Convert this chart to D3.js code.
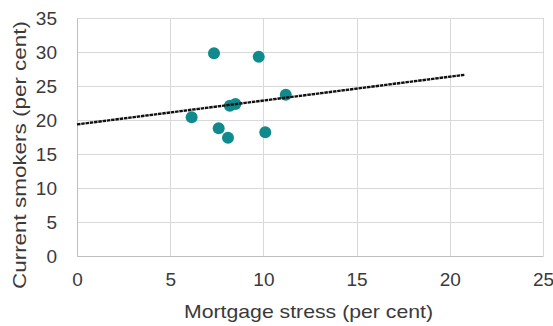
<!DOCTYPE html>
<html>
<head>
<meta charset="utf-8">
<script src="https://cdn.jsdelivr.net/npm/d3@7"></script>
<style>
  html, body { margin: 0; padding: 0; background: #fff; }
  svg { display: block; font-family: "Liberation Sans", Arial, sans-serif; }
</style>
</head>
<body>
<svg id="chart" width="553" height="326"></svg>
<script>
// Data
const mortgageStress = [7.35, 9.75, 6.15, 7.6, 8.1, 8.2, 8.5, 10.1, 11.2];
const currentSmokers = [29.8, 29.3, 20.4, 18.8, 17.4, 22.1, 22.35, 18.2, 23.7];
const trendX = [0, 20.8];
const trendY = [19.35, 26.65];
const xTicks = [0, 5, 10, 15, 20, 25];
const yTicks = [0, 5, 10, 15, 20, 25, 30, 35];
const xTitle = "Mortgage stress (per cent)";
const yTitle = "Current smokers (per cent)";

const svg = d3.select("#chart");
const mLeft = 77, mRight = 543, mTop = 18, mBottom = 256;

const x = d3.scaleLinear().domain([0, 25]).range([mLeft, mRight]);
const y = d3.scaleLinear().domain([0, 35]).range([mBottom, mTop]);

const textColor = "#3a3a3a";
const gridColor = "#d9d9d9";

// gridlines
const grid = svg.append("g");
grid.selectAll("line.h").data(yTicks).join("line")
  .attr("class", "h")
  .attr("x1", mLeft).attr("x2", mRight)
  .attr("y1", d => Math.round(y(d)) + 0.5).attr("y2", d => Math.round(y(d)) + 0.5)
  .attr("stroke", gridColor).attr("stroke-width", 1);
grid.selectAll("line.v").data(xTicks).join("line")
  .attr("class", "v")
  .attr("y1", mTop).attr("y2", mBottom)
  .attr("x1", d => Math.round(x(d)) + 0.5).attr("x2", d => Math.round(x(d)) + 0.5)
  .attr("stroke", gridColor).attr("stroke-width", 1);

// axes (labels only)
const xAxis = d3.axisBottom(x).tickValues(xTicks).tickSize(0).tickPadding(0);
const gx = svg.append("g").attr("transform", `translate(0,${mBottom})`).call(xAxis);
gx.select(".domain").attr("stroke", "#bfbfbf");
gx.selectAll("text").attr("font-size", 19).attr("fill", textColor)
  .attr("font-family", "Liberation Sans, Arial, sans-serif")
  .attr("dy", null).attr("y", 30);

const yAxis = d3.axisLeft(y).tickValues(yTicks).tickSize(0).tickPadding(20);
const gy = svg.append("g").attr("transform", `translate(${mLeft},0)`).call(yAxis);
gy.select(".domain").attr("stroke", "#bfbfbf");
gy.selectAll("text").attr("font-size", 19).attr("fill", textColor)
  .attr("font-family", "Liberation Sans, Arial, sans-serif")
  .attr("dy", "0.35em");

// points
svg.append("g").selectAll("circle")
  .data(mortgageStress.map((v, i) => [v, currentSmokers[i]]))
  .join("circle")
  .attr("cx", d => x(d[0])).attr("cy", d => y(d[1]))
  .attr("r", 6).attr("fill", "#108a8c");

// trendline
svg.append("line")
  .attr("x1", x(trendX[0])).attr("y1", y(trendY[0]))
  .attr("x2", x(trendX[1])).attr("y2", y(trendY[1]))
  .attr("stroke", "#111").attr("stroke-width", 2.4)
  .attr("stroke-dasharray", "3.5,0.8");

// titles
svg.append("text")
  .attr("x", (184 + 433) / 2).attr("y", 318)
  .attr("text-anchor", "middle").attr("font-size", 19).attr("fill", textColor)
  .attr("textLength", 249).attr("lengthAdjust", "spacingAndGlyphs")
  .text(xTitle);

svg.append("text")
  .attr("transform", "translate(26,155) rotate(-90)")
  .attr("text-anchor", "middle").attr("font-size", 19).attr("fill", textColor)
  .attr("textLength", 268).attr("lengthAdjust", "spacingAndGlyphs")
  .text(yTitle);
</script>
</body>
</html>
